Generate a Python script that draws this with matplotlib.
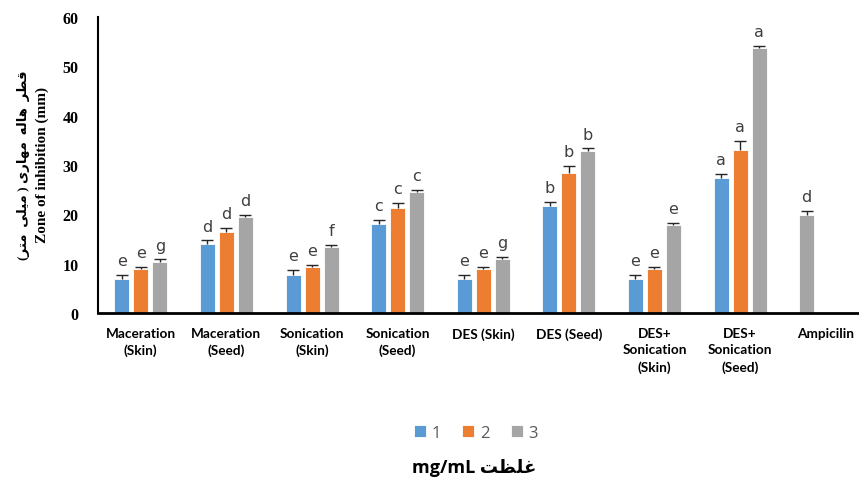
import matplotlib.pyplot as plt
import numpy as np

categories = ['Maceration\n(Skin)', 'Maceration\n(Seed)', 'Sonication\n(Skin)', 'Sonication\n(Seed)',
              'DES (Skin)', 'DES (Seed)', 'DES+\nSonication\n(Skin)', 'DES+\nSonication\n(Seed)', 'Ampicilin']
series_names = ['1', '2', '3']

# means (mm) and upper error (sd) per extract, 8 extracts
mean1 = [6.9, 13.9, 7.8, 18.0, 6.9, 21.6, 6.8, 27.3]
sd1 = [0.9, 0.8, 0.9, 0.9, 0.9, 0.9, 0.9, 0.9]
mean2 = [8.9, 16.4, 9.3, 21.3, 8.9, 28.3, 8.9, 33.1]
sd2 = [0.5, 0.8, 0.5, 1.0, 0.5, 1.5, 0.5, 1.8]
mean3 = [10.4, 19.4, 13.3, 24.5, 10.9, 32.8, 17.8, 53.7]
sd3 = [0.5, 0.5, 0.5, 0.5, 0.5, 0.6, 0.5, 0.5]
let1 = ['e', 'd', 'e', 'c', 'e', 'b', 'e', 'a']
let2 = ['e', 'd', 'e', 'c', 'e', 'b', 'e', 'a']
let3 = ['g', 'd', 'f', 'c', 'g', 'b', 'e', 'a']

amp_mean = 19.9
amp_sd = 0.8
amp_letter = 'd'

colors = ['#5B9BD5', '#ED7D31', '#A5A5A5']

# tiny arabic shaper (presentation forms) for the persian labels
FORMS = {
    '\u0642': ('\uFED5', '\uFED6', '\uFED7', '\uFED8'),
    '\u0637': ('\uFEC1', '\uFEC2', '\uFEC3', '\uFEC4'),
    '\u0631': ('\uFEAD', '\uFEAE', None, None),
    '\u0647': ('\uFEE9', '\uFEEA', '\uFEEB', '\uFEEC'),
    '\u0627': ('\uFE8D', '\uFE8E', None, None),
    '\u0644': ('\uFEDD', '\uFEDE', '\uFEDF', '\uFEE0'),
    '\u0645': ('\uFEE1', '\uFEE2', '\uFEE3', '\uFEE4'),
    '\u06CC': ('\uFBFC', '\uFBFD', '\uFBFE', '\uFBFF'),
    '\u063A': ('\uFECD', '\uFECE', '\uFECF', '\uFED0'),
    '\u0638': ('\uFEC5', '\uFEC6', '\uFEC7', '\uFEC8'),
    '\u062A': ('\uFE95', '\uFE96', '\uFE97', '\uFE98'),
}


def dual(c):
    return c in FORMS and FORMS[c][2] is not None


def shape(s):
    out = []
    for i, c in enumerate(s):
        if c not in FORMS:
            out.append(c)
            continue
        prev = s[i - 1] if i > 0 else ''
        nxt = s[i + 1] if i < len(s) - 1 else ''
        jp = dual(prev)
        jn = dual(c) and nxt in FORMS
        f = FORMS[c]
        if jp and jn:
            out.append(f[3])
        elif jp:
            out.append(f[1])
        elif jn:
            out.append(f[2])
        else:
            out.append(f[0])
    vis = ''.join(out)[::-1]
    return vis.translate(str.maketrans('()', ')('))


fa_ylabel = shape('\u0642\u0637\u0631  \u0647\u0627\u0644\u0647  \u0645\u0647\u0627\u0631\u06CC ( \u0645\u06CC\u0644\u06CC  \u0645\u062A\u0631)')
fa_xlabel = shape('\u063A\u0644\u0638\u062A')

fig = plt.figure(figsize=(8.59, 4.85), dpi=100)
ax = fig.add_axes([98 / 859, 1 - 314 / 485, 770.5 / 859, 296 / 485])

x = np.arange(len(mean1))
w = 0.175
step = 0.222
txt_col = '#404040'


def upper_err(xs, m, s):
    eb = ax.errorbar(xs, m, yerr=[np.zeros(len(m)), s], fmt='none', ecolor='#262626',
                     elinewidth=1.0, capsize=4.5, capthick=1.0, zorder=3)
    eb[1][0].set_visible(False)  # only the upper cap, like excel "plus"


for k, (m, s, lets) in enumerate([(mean1, sd1, let1), (mean2, sd2, let2), (mean3, sd3, let3)]):
    xs = x + (k - 1) * step
    ax.bar(xs, m, width=w, color=colors[k], edgecolor='white', linewidth=0.6, label=series_names[k], zorder=2)
    upper_err(xs, m, s)
    for xi, mi, si, l in zip(xs, m, s, lets):
        ax.annotate(l, (xi, mi + si), xytext=(0, 7), textcoords='offset points',
                    ha='center', va='baseline', fontsize=11.5, color=txt_col)

# ampicilin control sits in the first slot of the last group
xa = 8 - step
ax.bar([xa], [amp_mean], width=w, color=colors[2], edgecolor='white', linewidth=0.6, zorder=2)
upper_err([xa], [amp_mean], [amp_sd])
ax.annotate(amp_letter, (xa, amp_mean + amp_sd), xytext=(0, 7), textcoords='offset points',
            ha='center', va='baseline', fontsize=11.5, color=txt_col)

ax.set_xlim(-0.5, 8.5)
ax.set_ylim(0, 60)
ax.set_yticks(np.arange(0, 61, 10))
ax.set_yticklabels([str(v) for v in range(0, 61, 10)], fontfamily='Liberation Serif',
                   fontweight='bold', fontsize=11.5)
ax.set_xticks(np.arange(len(categories)))
ax.set_xticklabels(categories, fontfamily='Lato', fontweight='bold', fontsize=9.8, linespacing=1.45)
ax.tick_params(axis='both', length=0)
ax.tick_params(axis='y', pad=14)
ax.tick_params(axis='x', pad=10)
for sp in ['top', 'right']:
    ax.spines[sp].set_visible(False)
ax.spines['left'].set_linewidth(1.5)
ax.spines['bottom'].set_linewidth(2)

fig.text(24 / 859, 1 - 165 / 485, fa_ylabel, rotation=90, ha='center', va='center',
         family=['Liberation Serif', 'DejaVu Sans'], fontweight='bold', fontsize=9.5)
fig.text(42 / 859, 1 - 165 / 485, 'Zone of inhibition (mm)', rotation=90, ha='center', va='center',
         family='Liberation Serif', fontweight='bold', fontsize=11)

fig.legend(loc='center', bbox_to_anchor=(476 / 859, 1 - 434 / 485), ncol=3, frameon=False,
           handlelength=0.7, handleheight=0.7, handletextpad=0.35, columnspacing=1.3,
           prop={'family': 'Open Sans', 'size': 12}, labelcolor='#595959')

fig.text(474 / 859, 1 - 468 / 485, 'mg/mL ' + fa_xlabel, ha='center', va='center',
         family=['Open Sans', 'DejaVu Sans'], fontweight='bold', fontsize=13)

fig.savefig('out.png', dpi=100)
